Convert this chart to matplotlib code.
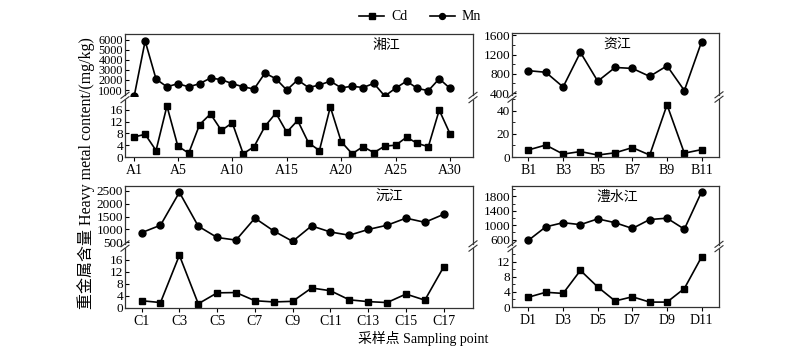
import matplotlib
matplotlib.use("Agg")
import matplotlib.pyplot as plt
from matplotlib.ticker import MultipleLocator

plt.rcParams['font.family'] = ['Liberation Serif', 'Noto Sans CJK SC']
plt.rcParams['font.size'] = 9

# 湘江 (A1-A30)
xiang_mn = [430, 5860, 2090, 1320, 1630, 1320, 1630, 2190, 2030, 1630,
            1320, 1100, 2680, 2120, 1000, 2000, 1250, 1500, 1880, 1220,
            1375, 1250, 1660, 400, 1190, 1880, 1160, 940, 2120, 1160]
xiang_cd = [6.8, 7.7, 2.2, 17.3, 3.7, 1.3, 11.0, 14.6, 9.0, 11.6,
            1.1, 3.5, 10.4, 14.9, 8.4, 12.4, 4.8, 2.2, 17.0, 5.2,
            1.1, 3.5, 1.5, 3.7, 4.0, 6.7, 4.6, 3.5, 15.9, 7.8]
# 资江 (B1-B11)
zi_mn = [866, 833, 527, 1247, 647, 933, 913, 747, 967, 453, 1473]
zi_cd = [6.1, 10.3, 2.5, 4.7, 1.7, 3.6, 8.1, 1.7, 45.0, 3.3, 6.4]
# 沅江 (C1-C17)
yuan_mn = [876, 1165, 2444, 1128, 688, 587, 1440, 940, 538, 1139,
           902, 775, 1000, 1165, 1440, 1278, 1590]
yuan_cd = [2.4, 1.8, 17.4, 1.4, 5.0, 5.1, 2.4, 2.0, 2.2, 6.6,
           5.7, 2.7, 2.1, 1.8, 4.6, 2.6, 13.6]
# 澧水江 (D1-D11)
li_mn = [584, 957, 1072, 1018, 1178, 1072, 912, 1160, 1197, 893, 1933]
li_cd = [2.6, 3.9, 3.6, 9.7, 5.3, 1.6, 2.7, 1.3, 1.3, 4.9, 13.3]

W, H = 800, 357


def rect(l, t, r, b):
    return [l / W, 1 - b / H, (r - l) / W, (b - t) / H]


def broken_panel(fig, box, brk, mn, cd, prefix, ticks, xlim, mn_lim, cd_lim,
                 mn_ticks, cd_ticks, title, tx, mn_minor=None, cd_minor=None,
                 mn_size=9.5):
    l, t, r, b = box
    ax_top = fig.add_axes(rect(l, t, r, brk - 2))
    ax_bot = fig.add_axes(rect(l, brk + 2, r, b))
    x = list(range(1, len(mn) + 1))
    ax_top.plot(x, mn, '-o', color='black', lw=1.2, ms=5, label='Mn')
    ax_bot.plot(x, cd, '-s', color='black', lw=1.2, ms=5, label='Cd')
    for ax in (ax_top, ax_bot):
        ax.set_xlim(*xlim)
        ax.tick_params(axis='y', direction='in', length=3, width=0.8,
                       pad=1.5, labelsize=9.5)
        ax.tick_params(axis='y', which='minor', direction='in', length=2)
        for s in ax.spines.values():
            s.set_linewidth(0.9)
            s.set_color('#333333')
    ax_top.tick_params(axis='y', labelsize=mn_size)
    ax_top.set_ylim(*mn_lim)
    ax_bot.set_ylim(*cd_lim)
    ax_top.set_yticks(mn_ticks)
    ax_bot.set_yticks(cd_ticks)
    if mn_minor:
        ax_top.set_yticks(mn_minor, minor=True)
    if cd_minor:
        ax_bot.yaxis.set_minor_locator(MultipleLocator(cd_minor))
    ax_top.spines['bottom'].set_visible(False)
    ax_bot.spines['top'].set_visible(False)
    ax_top.set_xticks([])
    ax_bot.set_xticks(ticks)
    ax_bot.set_xticklabels([prefix + str(i) for i in ticks])
    ax_bot.tick_params(axis='x', direction='out', length=3, width=0.8,
                       pad=2, labelsize=10)
    ax_top.text(tx, 0.82, title, transform=ax_top.transAxes,
                ha='center', va='center', fontsize=10,
                family=['Noto Sans CJK SC'])
    # break marks "//" on both spines
    for xf in (l, r):
        for dy in (-2.2, 2.2):
            yc = brk + dy
            fig.add_artist(plt.Line2D([(xf - 4) / W, (xf + 4) / W],
                                      [1 - (yc + 3) / H, 1 - (yc - 3) / H],
                                      color='#333333', lw=0.8))
    return ax_top, ax_bot


fig = plt.figure(figsize=(8, 3.57), dpi=100)

a_top, a_bot = broken_panel(fig, (125, 34, 473, 157), 97.5, xiang_mn, xiang_cd,
                            'A', [1, 5, 10, 15, 20, 25, 30], (0.15, 32.1),
                            (460, 6550), (0, 19.5),
                            [1000, 2000, 3000, 4000, 5000, 6000],
                            [0, 4, 8, 12, 16], '湘江', 0.75, mn_size=8.8)
broken_panel(fig, (512, 33, 719, 157), 97, zi_mn, zi_cd, 'B',
             [1, 3, 5, 7, 9, 11], (0.05, 12.0), (360, 1650), (0, 50),
             [400, 800, 1200, 1600], [0, 20, 40], '资江', 0.51,
             [600, 1000, 1400], 10)
broken_panel(fig, (125, 186, 473, 308), 246, yuan_mn, yuan_cd, 'C',
             list(range(1, 18, 2)), (0.12, 18.55), (435, 2690), (0, 19.8),
             [500, 1000, 1500, 2000, 2500], [0, 4, 8, 12, 16], '沅江', 0.76)
broken_panel(fig, (512, 186, 719, 307), 246.5, li_mn, li_cd, 'D',
             [1, 3, 5, 7, 9, 11], (0.05, 12.0), (467, 2090), (0, 15.5),
             [600, 1000, 1400, 1800], [0, 4, 8, 12], '澧水江', 0.51,
             [800, 1200, 1600, 2000], 2)

h_mn, _ = a_top.get_legend_handles_labels()
h_cd, _ = a_bot.get_legend_handles_labels()
fig.legend(h_cd + h_mn, ['Cd', 'Mn'], loc='center', ncol=2,
           bbox_to_anchor=(420 / W, 1 - 17 / H), frameon=False,
           fontsize=10, handlelength=1.8, columnspacing=1.6,
           handletextpad=0.5, markerscale=0.85)

fig.text(86 / W, 1 - 173 / H, '重金属含量 Heavy metal content/(mg/kg)',
         rotation=90, ha='center', va='center', fontsize=11.5)
fig.text(423 / W, 1 - 338 / H, '采样点 Sampling point',
         ha='center', va='center', fontsize=10)

fig.savefig('out.png', dpi=100)
